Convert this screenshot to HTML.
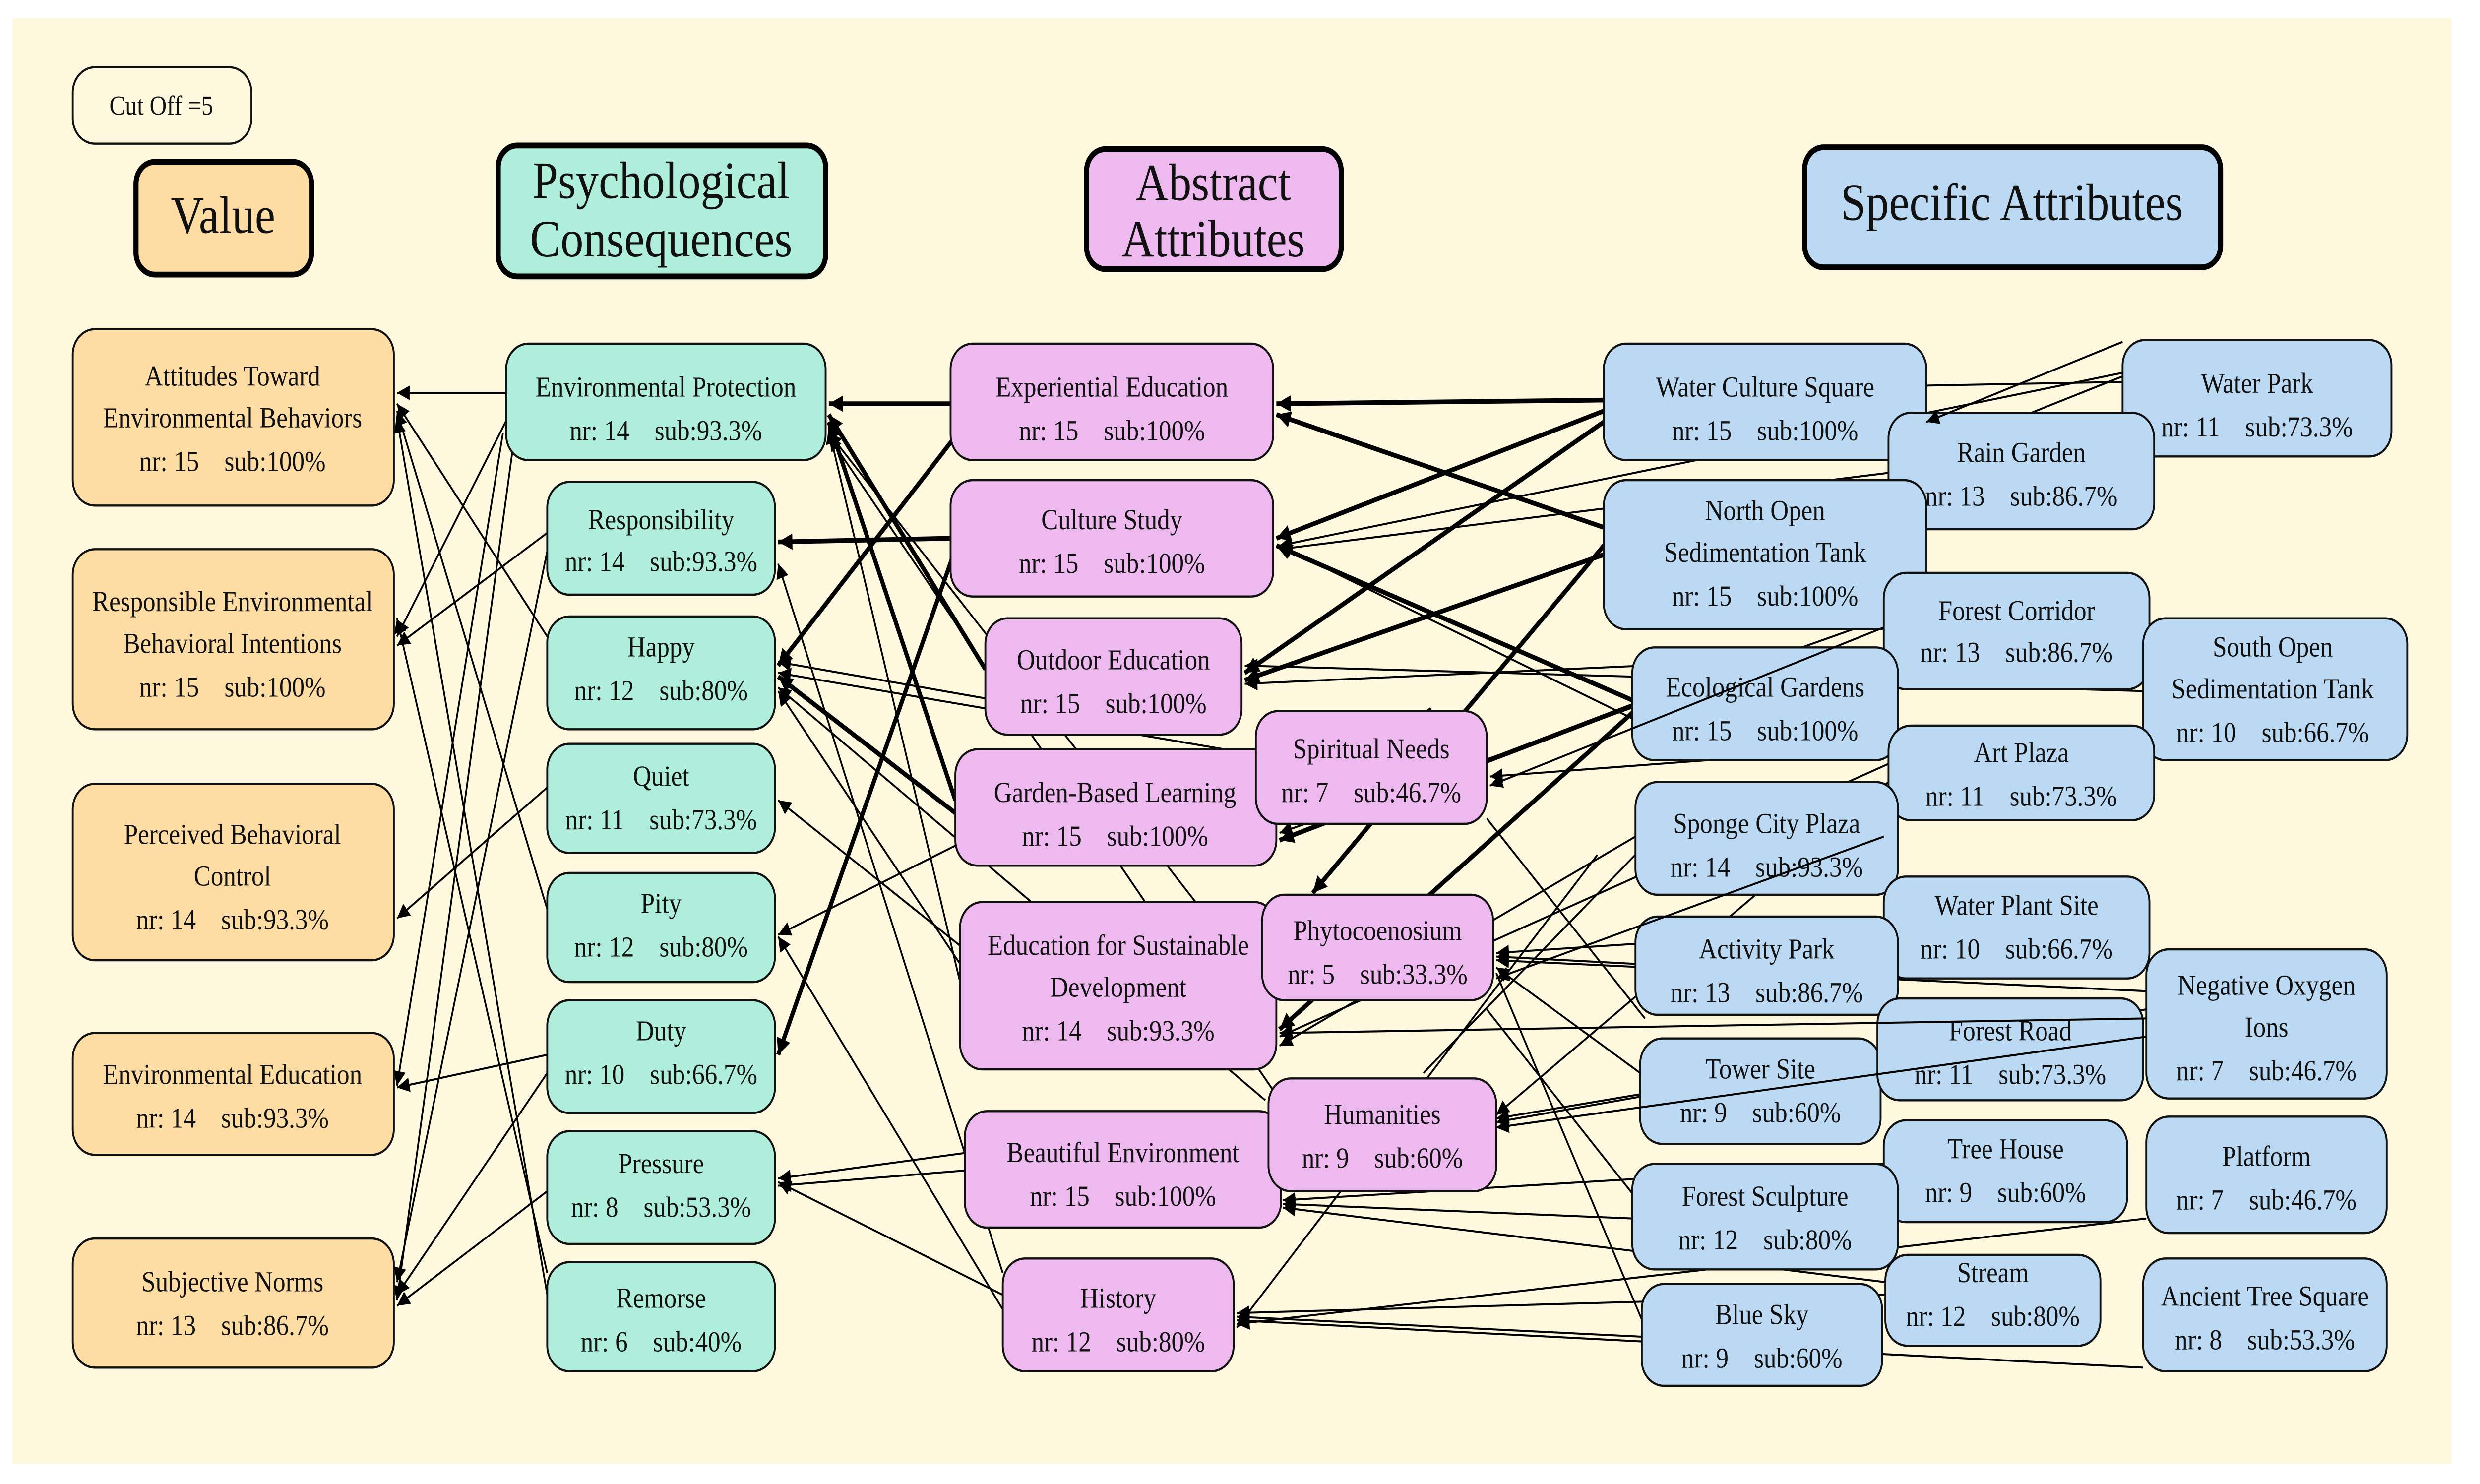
<!DOCTYPE html>
<html><head><meta charset="utf-8"><style>
html,body{margin:0;padding:0;background:#fff;width:100%;height:100%;overflow:hidden;}
svg{display:block;width:100vw;height:100vh;}
text{font-family:"Liberation Serif",serif;fill:#111;}
.n text{font-size:16px;text-anchor:middle;}
.h text{font-size:29px;text-anchor:middle;}
.e line{stroke:#000;stroke-width:1.1;marker-end:url(#a);}
.p line{stroke:#000;stroke-width:1.1;}
.t line{stroke:#000;stroke-width:2.6;marker-end:url(#a2);}
.n rect{stroke:#111;stroke-width:1.2;}
</style></head><body>
<svg viewBox="0 0 1568 816" preserveAspectRatio="none" xmlns="http://www.w3.org/2000/svg">
<defs>
<marker id="a" viewBox="0 0 10 10" refX="10" refY="5" markerWidth="10" markerHeight="8" markerUnits="userSpaceOnUse" orient="auto"><path d="M0,0L10,5L0,10z" fill="#000"/></marker>
<marker id="a2" viewBox="0 0 10 10" refX="10" refY="5" markerWidth="11" markerHeight="9" markerUnits="userSpaceOnUse" orient="auto"><path d="M0,0L10,5L0,10z" fill="#000"/></marker>
</defs>
<rect x="0" y="0" width="1568" height="816" fill="#fff"/>
<rect x="8" y="10" width="1542" height="795" fill="#FEF8DE"/>

<g class="e">
<line x1="320" y1="216" x2="251" y2="216"/>
<line x1="322" y1="228" x2="251" y2="350"/>
<line x1="318" y1="238" x2="251" y2="597"/>
<line x1="324" y1="248" x2="251" y2="715"/>
<line x1="346" y1="293" x2="251" y2="355"/>
<line x1="346" y1="303" x2="251" y2="705"/>
<line x1="346" y1="350" x2="251" y2="222"/>
<line x1="346" y1="433" x2="251" y2="505"/>
<line x1="346" y1="500" x2="251" y2="226"/>
<line x1="346" y1="580" x2="251" y2="598"/>
<line x1="346" y1="590" x2="251" y2="712"/>
<line x1="346" y1="655" x2="251" y2="718"/>
<line x1="346" y1="700" x2="251" y2="340"/>
<line x1="346" y1="712" x2="251" y2="230"/>
</g>
<g class="t">
<line x1="601" y1="222" x2="524" y2="222"/>
<line x1="601" y1="296" x2="492" y2="298"/>
<line x1="623" y1="368" x2="524" y2="228"/>
<line x1="604" y1="440" x2="524" y2="232"/>
<line x1="604" y1="447" x2="492" y2="372"/>
<line x1="604" y1="240" x2="492" y2="366"/>
<line x1="604" y1="302" x2="492" y2="580"/>
</g>
<g class="e">
<line x1="623" y1="384" x2="492" y2="364"/>
<line x1="607" y1="520" x2="492" y2="440"/>
<line x1="607" y1="540" x2="524" y2="236"/>
<line x1="607" y1="530" x2="492" y2="380"/>
<line x1="604" y1="465" x2="492" y2="514"/>
<line x1="610" y1="634" x2="492" y2="648"/>
<line x1="634" y1="720" x2="492" y2="515"/>
<line x1="634" y1="712" x2="492" y2="650"/>
<line x1="794" y1="415" x2="492" y2="370"/>
<line x1="802" y1="630" x2="492" y2="652"/>
<line x1="634" y1="700" x2="492" y2="310"/>
<line x1="810" y1="606" x2="524" y2="240"/>
<line x1="800" y1="605" x2="492" y2="378"/>
<line x1="800" y1="545" x2="524" y2="238"/>
</g>
<g class="t">
<line x1="1014" y1="220" x2="807" y2="222"/>
<line x1="1014" y1="226" x2="807" y2="296"/>
<line x1="1014" y1="232" x2="787" y2="370"/>
<line x1="1014" y1="290" x2="807" y2="228"/>
<line x1="1014" y1="305" x2="787" y2="374"/>
<line x1="1032" y1="385" x2="807" y2="300"/>
<line x1="1032" y1="388" x2="809" y2="462"/>
<line x1="1032" y1="392" x2="809" y2="566"/>
<line x1="905" y1="390" x2="809" y2="452"/>
<line x1="1014" y1="300" x2="830" y2="491"/>
</g>
<g class="p">
<line x1="1342" y1="210" x2="1218" y2="212"/>
<line x1="1362" y1="200" x2="1218" y2="250"/>
<line x1="940" y1="450" x2="1040" y2="560"/>
<line x1="940" y1="555" x2="1040" y2="665"/>
<line x1="1045" y1="740" x2="946" y2="535"/>
<line x1="1034" y1="470" x2="900" y2="590"/>
</g>
<g class="e">
<line x1="1342" y1="205" x2="809" y2="300"/>
<line x1="1194" y1="260" x2="809" y2="302"/>
<line x1="1355" y1="380" x2="787" y2="366"/>
<line x1="1191" y1="340" x2="809" y2="458"/>
<line x1="1191" y1="360" x2="787" y2="376"/>
<line x1="1355" y1="400" x2="942" y2="427"/>
<line x1="1032" y1="395" x2="809" y2="300"/>
<line x1="1194" y1="420" x2="809" y2="570"/>
<line x1="1034" y1="460" x2="809" y2="575"/>
<line x1="1191" y1="510" x2="946" y2="524"/>
<line x1="1034" y1="530" x2="946" y2="526"/>
<line x1="1357" y1="545" x2="946" y2="528"/>
<line x1="1037" y1="590" x2="946" y2="532"/>
<line x1="1357" y1="555" x2="946" y2="615"/>
<line x1="1187" y1="580" x2="946" y2="617"/>
<line x1="1194" y1="430" x2="946" y2="613"/>
<line x1="1032" y1="670" x2="811" y2="662"/>
<line x1="1192" y1="705" x2="811" y2="664"/>
<line x1="1191" y1="640" x2="811" y2="660"/>
<line x1="1192" y1="712" x2="782" y2="722"/>
<line x1="1038" y1="735" x2="782" y2="724"/>
<line x1="1355" y1="752" x2="782" y2="726"/>
<line x1="1357" y1="670" x2="782" y2="728"/>
<line x1="1010" y1="470" x2="782" y2="730"/>
</g>

<g class="n"><rect x="46" y="37" width="113" height="42" rx="14" fill="#FEF8DE"/><text x="102" y="63" style="font-size:15px">Cut Off =5</text></g>
<g class="h">
<rect x="86" y="89" width="111" height="62" rx="12" fill="#FDDDA3" stroke="#000" stroke-width="3.2"/><text x="141" y="128">Value</text>
<rect x="315" y="80" width="207" height="72" rx="12" fill="#AEEEDA" stroke="#000" stroke-width="3.2"/><text x="418" y="109">Psychological</text><text x="418" y="141">Consequences</text>
<rect x="687" y="82" width="161" height="66" rx="12" fill="#EDB9EF" stroke="#000" stroke-width="3.2"/><text x="767" y="110">Abstract</text><text x="767" y="141">Attributes</text>
<rect x="1141" y="81" width="263" height="66" rx="12" fill="#BBD9F3" stroke="#000" stroke-width="3.2"/><text x="1272" y="121">Specific Attributes</text>
</g>

<g class="n">
<rect x="46" y="181" width="203" height="97" rx="14" fill="#FDDDA3"/><text x="147" y="212">Attitudes Toward</text><text x="147" y="235">Environmental Behaviors</text><text x="147" y="259">nr: 15&#160;&#160;&#160; sub:100%</text>
<rect x="46" y="302" width="203" height="99" rx="14" fill="#FDDDA3"/><text x="147" y="336">Responsible Environmental</text><text x="147" y="359">Behavioral Intentions</text><text x="147" y="383">nr: 15&#160;&#160;&#160; sub:100%</text>
<rect x="46" y="431" width="203" height="97" rx="14" fill="#FDDDA3"/><text x="147" y="464">Perceived Behavioral</text><text x="147" y="487">Control</text><text x="147" y="511">nr: 14&#160;&#160;&#160; sub:93.3%</text>
<rect x="46" y="568" width="203" height="67" rx="14" fill="#FDDDA3"/><text x="147" y="596">Environmental Education</text><text x="147" y="620">nr: 14&#160;&#160;&#160; sub:93.3%</text>
<rect x="46" y="681" width="203" height="71" rx="14" fill="#FDDDA3"/><text x="147" y="710">Subjective Norms</text><text x="147" y="734">nr: 13&#160;&#160;&#160; sub:86.7%</text>
</g>
<g class="n">
<rect x="320" y="189" width="202" height="64" rx="14" fill="#AEEEDA"/><text x="421" y="218">Environmental Protection</text><text x="421" y="242">nr: 14&#160;&#160;&#160; sub:93.3%</text>
<rect x="346" y="265" width="144" height="62" rx="14" fill="#AEEEDA"/><text x="418" y="291">Responsibility</text><text x="418" y="314">nr: 14&#160;&#160;&#160; sub:93.3%</text>
<rect x="346" y="339" width="144" height="62" rx="14" fill="#AEEEDA"/><text x="418" y="361">Happy</text><text x="418" y="385">nr: 12&#160;&#160;&#160; sub:80%</text>
<rect x="346" y="409" width="144" height="60" rx="14" fill="#AEEEDA"/><text x="418" y="432">Quiet</text><text x="418" y="456">nr: 11&#160;&#160;&#160; sub:73.3%</text>
<rect x="346" y="480" width="144" height="60" rx="14" fill="#AEEEDA"/><text x="418" y="502">Pity</text><text x="418" y="526">nr: 12&#160;&#160;&#160; sub:80%</text>
<rect x="346" y="550" width="144" height="62" rx="14" fill="#AEEEDA"/><text x="418" y="572">Duty</text><text x="418" y="596">nr: 10&#160;&#160;&#160; sub:66.7%</text>
<rect x="346" y="622" width="144" height="62" rx="14" fill="#AEEEDA"/><text x="418" y="645">Pressure</text><text x="418" y="669">nr: 8&#160;&#160;&#160; sub:53.3%</text>
<rect x="346" y="694" width="144" height="60" rx="14" fill="#AEEEDA"/><text x="418" y="719">Remorse</text><text x="418" y="743">nr: 6&#160;&#160;&#160; sub:40%</text>
</g>
<g class="n">
<rect x="601" y="189" width="204" height="64" rx="14" fill="#EDB9EF"/><text x="703" y="218">Experiential Education</text><text x="703" y="242">nr: 15&#160;&#160;&#160; sub:100%</text>
<rect x="601" y="264" width="204" height="64" rx="14" fill="#EDB9EF"/><text x="703" y="291">Culture Study</text><text x="703" y="315">nr: 15&#160;&#160;&#160; sub:100%</text>
<rect x="623" y="340" width="162" height="64" rx="14" fill="#EDB9EF"/><text x="704" y="368">Outdoor Education</text><text x="704" y="392">nr: 15&#160;&#160;&#160; sub:100%</text>
<rect x="604" y="412" width="203" height="64" rx="14" fill="#EDB9EF"/><text x="705" y="441">Garden-Based Learning</text><text x="705" y="465">nr: 15&#160;&#160;&#160; sub:100%</text>
<rect x="607" y="496" width="200" height="92" rx="14" fill="#EDB9EF"/><text x="707" y="525">Education for Sustainable</text><text x="707" y="548">Development</text><text x="707" y="572">nr: 14&#160;&#160;&#160; sub:93.3%</text>
<rect x="610" y="611" width="200" height="64" rx="14" fill="#EDB9EF"/><text x="710" y="639">Beautiful Environment</text><text x="710" y="663">nr: 15&#160;&#160;&#160; sub:100%</text>
<rect x="634" y="692" width="146" height="62" rx="14" fill="#EDB9EF"/><text x="707" y="719">History</text><text x="707" y="743">nr: 12&#160;&#160;&#160; sub:80%</text>
<rect x="794" y="391" width="146" height="62" rx="14" fill="#EDB9EF"/><text x="867" y="417">Spiritual Needs</text><text x="867" y="441">nr: 7&#160;&#160;&#160; sub:46.7%</text>
<rect x="798" y="492" width="146" height="58" rx="14" fill="#EDB9EF"/><text x="871" y="517">Phytocoenosium</text><text x="871" y="541">nr: 5&#160;&#160;&#160; sub:33.3%</text>
<rect x="802" y="593" width="144" height="62" rx="14" fill="#EDB9EF"/><text x="874" y="618">Humanities</text><text x="874" y="642">nr: 9&#160;&#160;&#160; sub:60%</text>
</g>
<g class="n">
<rect x="1014" y="189" width="204" height="64" rx="14" fill="#BBD9F3"/><text x="1116" y="218">Water Culture Square</text><text x="1116" y="242">nr: 15&#160;&#160;&#160; sub:100%</text>
<rect x="1342" y="187" width="170" height="64" rx="14" fill="#BBD9F3"/><text x="1427" y="216">Water Park</text><text x="1427" y="240">nr: 11&#160;&#160;&#160; sub:73.3%</text>
<rect x="1194" y="227" width="168" height="64" rx="14" fill="#BBD9F3"/><text x="1278" y="254">Rain Garden</text><text x="1278" y="278">nr: 13&#160;&#160;&#160; sub:86.7%</text>
<rect x="1014" y="264" width="204" height="82" rx="14" fill="#BBD9F3"/><text x="1116" y="286">North Open</text><text x="1116" y="309">Sedimentation Tank</text><text x="1116" y="333">nr: 15&#160;&#160;&#160; sub:100%</text>
<rect x="1191" y="315" width="168" height="64" rx="14" fill="#BBD9F3"/><text x="1275" y="341">Forest Corridor</text><text x="1275" y="364">nr: 13&#160;&#160;&#160; sub:86.7%</text>
<rect x="1355" y="340" width="167" height="78" rx="14" fill="#BBD9F3"/><text x="1437" y="361">South Open</text><text x="1437" y="384">Sedimentation Tank</text><text x="1437" y="408">nr: 10&#160;&#160;&#160; sub:66.7%</text>
<rect x="1032" y="356" width="168" height="62" rx="14" fill="#BBD9F3"/><text x="1116" y="383">Ecological Gardens</text><text x="1116" y="407">nr: 15&#160;&#160;&#160; sub:100%</text>
<rect x="1194" y="399" width="168" height="52" rx="14" fill="#BBD9F3"/><text x="1278" y="419">Art Plaza</text><text x="1278" y="443">nr: 11&#160;&#160;&#160; sub:73.3%</text>
<rect x="1034" y="430" width="166" height="62" rx="14" fill="#BBD9F3"/><text x="1117" y="458">Sponge City Plaza</text><text x="1117" y="482">nr: 14&#160;&#160;&#160; sub:93.3%</text>
<rect x="1191" y="482" width="168" height="56" rx="14" fill="#BBD9F3"/><text x="1275" y="503">Water Plant Site</text><text x="1275" y="527">nr: 10&#160;&#160;&#160; sub:66.7%</text>
<rect x="1034" y="504" width="166" height="54" rx="14" fill="#BBD9F3"/><text x="1117" y="527">Activity Park</text><text x="1117" y="551">nr: 13&#160;&#160;&#160; sub:86.7%</text>
<rect x="1357" y="522" width="152" height="82" rx="14" fill="#BBD9F3"/><text x="1433" y="547">Negative Oxygen</text><text x="1433" y="570">Ions</text><text x="1433" y="594">nr: 7&#160;&#160;&#160; sub:46.7%</text>
<rect x="1037" y="571" width="152" height="58" rx="14" fill="#BBD9F3"/><text x="1113" y="593">Tower Site</text><text x="1113" y="617">nr: 9&#160;&#160;&#160; sub:60%</text>
<rect x="1187" y="549" width="168" height="56" rx="14" fill="#BBD9F3"/><text x="1271" y="572">Forest Road</text><text x="1271" y="596">nr: 11&#160;&#160;&#160; sub:73.3%</text>
<rect x="1191" y="616" width="154" height="56" rx="14" fill="#BBD9F3"/><text x="1268" y="637">Tree House</text><text x="1268" y="661">nr: 9&#160;&#160;&#160; sub:60%</text>
<rect x="1357" y="614" width="152" height="64" rx="14" fill="#BBD9F3"/><text x="1433" y="641">Platform</text><text x="1433" y="665">nr: 7&#160;&#160;&#160; sub:46.7%</text>
<rect x="1032" y="640" width="168" height="58" rx="14" fill="#BBD9F3"/><text x="1116" y="663">Forest Sculpture</text><text x="1116" y="687">nr: 12&#160;&#160;&#160; sub:80%</text>
<rect x="1192" y="690" width="136" height="50" rx="14" fill="#BBD9F3"/><text x="1260" y="705">Stream</text><text x="1260" y="729">nr: 12&#160;&#160;&#160; sub:80%</text>
<rect x="1355" y="692" width="154" height="62" rx="14" fill="#BBD9F3"/><text x="1432" y="718">Ancient Tree Square</text><text x="1432" y="742">nr: 8&#160;&#160;&#160; sub:53.3%</text>
<rect x="1038" y="706" width="152" height="56" rx="14" fill="#BBD9F3"/><text x="1114" y="728">Blue Sky</text><text x="1114" y="752">nr: 9&#160;&#160;&#160; sub:60%</text>
</g>
<g class="e">
<line x1="1342" y1="188" x2="1218" y2="232"/>
<line x1="1191" y1="345" x2="942" y2="432"/>
<line x1="1191" y1="460" x2="946" y2="538"/>
<line x1="1357" y1="570" x2="946" y2="620"/>
<line x1="1357" y1="560" x2="809" y2="568"/>
</g>
</svg>
</body></html>
